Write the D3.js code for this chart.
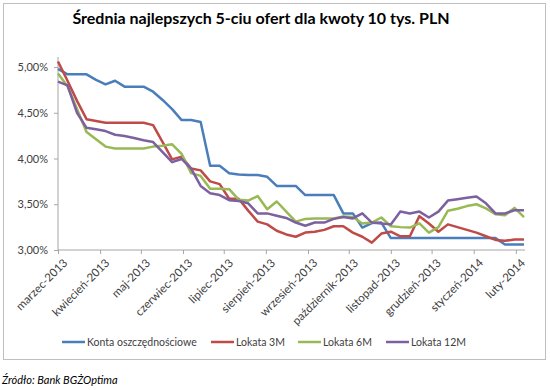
<!DOCTYPE html>
<html><head><meta charset="utf-8">
<script src="https://cdn.jsdelivr.net/npm/d3@7"></script>
<style>body{margin:0;background:#fff}svg{display:block}text{font-family:Lato,"Open Sans",sans-serif}</style>
</head><body><svg id="c" width="550" height="390"></svg>
<script>
const title = "Średnia najlepszych 5-ciu ofert dla kwoty 10 tys. PLN";
const source = "Źródło: Bank BGŻOptima";
const dates = ["2013-03-01","2013-03-08","2013-03-15","2013-03-22","2013-03-29","2013-04-05","2013-04-12","2013-04-19","2013-04-26","2013-05-03",
"2013-05-10","2013-05-17","2013-05-24","2013-05-31","2013-06-07","2013-06-14","2013-06-21","2013-06-28","2013-07-05","2013-07-12",
"2013-07-19","2013-07-26","2013-08-02","2013-08-09","2013-08-16","2013-08-23","2013-08-30","2013-09-06","2013-09-13","2013-09-20",
"2013-09-27","2013-10-04","2013-10-11","2013-10-18","2013-10-25","2013-11-01","2013-11-08","2013-11-15","2013-11-22","2013-11-29",
"2013-12-06","2013-12-13","2013-12-20","2013-12-27","2014-01-03","2014-01-10","2014-01-17","2014-01-24","2014-01-31","2014-02-07"];
const seriesNames = ["Konta oszczędnościowe","Lokata 3M","Lokata 6M","Lokata 12M"];
const konta = [4.98,4.92,4.92,4.92,4.86,4.81,4.85,4.785,4.785,4.785,
4.73,4.64,4.54,4.42,4.42,4.40,3.92,3.92,3.84,3.825,
3.82,3.82,3.80,3.70,3.70,3.70,3.60,3.60,3.60,3.60,
3.40,3.40,3.245,3.295,3.30,3.13,3.13,3.13,3.13,3.13,
3.13,3.13,3.13,3.13,3.13,3.13,3.13,3.06,3.06,3.06];
const lokata3M = [5.06,4.85,4.63,4.43,4.41,4.39,4.39,4.39,4.39,4.39,
4.365,4.18,3.99,4.02,3.89,3.87,3.75,3.72,3.56,3.56,
3.43,3.31,3.28,3.21,3.17,3.145,3.19,3.20,3.22,3.26,
3.26,3.19,3.145,3.08,3.18,3.20,3.15,3.15,3.37,3.29,
3.20,3.28,3.25,3.22,3.19,3.15,3.11,3.10,3.115,3.115];
const lokata6M = [4.93,4.79,4.54,4.29,4.21,4.13,4.11,4.11,4.11,4.11,
4.13,4.14,4.155,4.05,3.84,3.81,3.67,3.67,3.665,3.55,
3.54,3.59,3.445,3.53,3.42,3.31,3.34,3.345,3.345,3.345,
3.365,3.36,3.29,3.30,3.355,3.26,3.25,3.245,3.29,3.19,
3.25,3.43,3.45,3.48,3.50,3.455,3.39,3.38,3.46,3.36];
const lokata12M = [4.84,4.80,4.50,4.335,4.32,4.30,4.26,4.245,4.225,4.20,
4.18,4.07,3.96,3.995,3.89,3.70,3.62,3.60,3.545,3.535,
3.51,3.40,3.40,3.375,3.35,3.30,3.265,3.30,3.30,3.34,
3.36,3.345,3.40,3.30,3.29,3.28,3.42,3.40,3.42,3.355,
3.42,3.54,3.555,3.57,3.585,3.51,3.40,3.40,3.435,3.435];
const colors = ["#4A7EBB","#BE4B48","#98B954","#7D60A0"];
const yTicks = [3.0,3.5,4.0,4.5,5.0];
const monthLabels = ["marzec-2013","kwiecień-2013","maj-2013","czerwiec-2013","lipiec-2013","sierpień-2013","wrzesień-2013","październik-2013","listopad-2013","grudzień-2013","styczeń-2014","luty-2014"];
const monthDates = ["2013-03-01","2013-04-01","2013-05-01","2013-06-01","2013-07-01","2013-08-01","2013-09-01","2013-10-01","2013-11-01","2013-12-01","2014-01-01","2014-02-01"];

const parse = d3.utcParse("%Y-%m-%d");
const svg = d3.select("#c");
svg.append("rect").attr("x",3.5).attr("y",3.5).attr("width",542).attr("height",356)
  .attr("fill","#fff").attr("stroke","#BFBFBF").attr("stroke-width",1);

svg.append("text").attr("x",261).attr("y",24).attr("text-anchor","middle")
  .attr("font-size",16).attr("font-weight","bold").attr("fill","#000").text(title);

const x = d3.scaleUtc().domain([parse(dates[0]), parse(dates[dates.length-1])]).range([58,524]);
const y = d3.scaleLinear().domain([3.0,5.0]).range([250,67]);

const fmt = v => d3.format(".2f")(v).replace(".",",") + "%";

// y axis
const ya = svg.append("g").attr("transform","translate(58,0)")
  .call(d3.axisLeft(y).tickValues(yTicks).tickFormat(fmt).tickSize(4).tickPadding(6));
ya.select(".domain").attr("stroke","#A6A6A6").attr("d","M0,57V250");
ya.selectAll(".tick line").attr("stroke","#A6A6A6");
ya.selectAll("text").attr("font-size",11).attr("fill","#404040").attr("font-family","Lato");

// x axis
const xa = svg.append("g").attr("transform","translate(0,250)")
  .call(d3.axisBottom(x).tickValues(monthDates.map(parse)).tickFormat((d,i)=>monthLabels[i]).tickSize(4).tickPadding(4));
xa.select(".domain").attr("stroke","#A6A6A6").attr("d","M58,0H525");
xa.selectAll(".tick line").attr("stroke","#A6A6A6");
xa.selectAll("text").attr("font-size",11.5).attr("fill","#404040").attr("font-family","Lato")
  .attr("text-anchor","end").attr("dy",0).attr("transform","translate(4,8) rotate(-45)");

const all = [konta, lokata3M, lokata6M, lokata12M];
const line = d3.line().x((d,i)=>x(parse(dates[i]))).y(d=>y(d));
all.forEach((s,k)=>{
  svg.append("path").datum(s).attr("d",line).attr("fill","none")
    .attr("stroke",colors[k]).attr("stroke-width",2.5).attr("stroke-linejoin","round");
});

// legend
const legX = [62,211,298,386];
seriesNames.forEach((n,k)=>{
  const g = svg.append("g").attr("transform",`translate(${legX[k]},342)`);
  g.append("line").attr("x1",0).attr("x2",23).attr("y1",0).attr("y2",0).attr("stroke",colors[k]).attr("stroke-width",2.5);
  g.append("text").attr("x",25).attr("y",4).attr("font-size",10.5).attr("fill","#404040").text(n);
});

svg.append("text").attr("x",2).attr("y",384).attr("font-size",11).attr("font-style","italic").attr("fill","#000").text(source);
</script></body></html>
